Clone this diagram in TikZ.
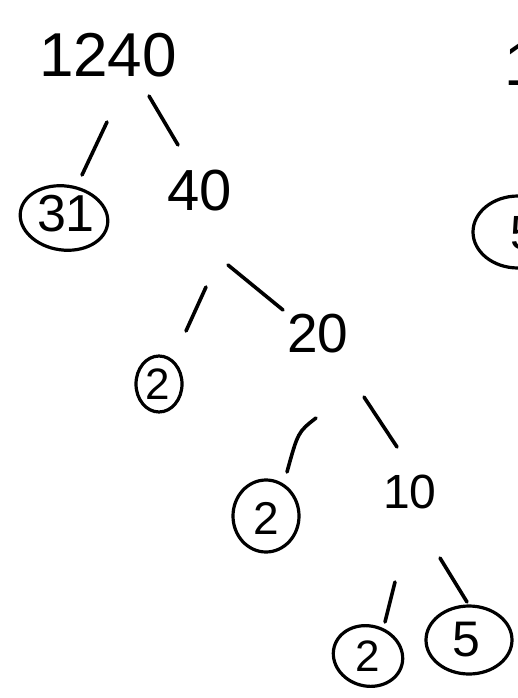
\documentclass[tikz,border=0pt]{standalone}
\usepackage{fontspec}
\setmainfont{Liberation Sans}
\usetikzlibrary{shapes.geometric}
\begin{document}
\begin{tikzpicture}[x=1pt,y=-1pt,
  num/.style={inner sep=0pt, font=\fontsize{#1}{#1}\selectfont},
  ring/.style={draw, ellipse, line width=3.2pt, inner sep=0pt},
  edge/.style={line width=3.6pt, line cap=round}]
\useasboundingbox (0,0) rectangle (517,698);
% numbers
\node[num=62] (root) at (108,55) {1240};
\node[num=52] (n31) at (66,214) {31};
\node[ring, minimum width=88, minimum height=64, rotate=-8] (c31) at (64,218) {};
\node[num=58] (n40) at (200,191) {40};
\node[num=55] (n20) at (318,334) {20};
\node[num=44] (n2a) at (158,384) {2};
\node[ring, minimum width=46, minimum height=56] (c2a) at (159,384) {};
\node[num=46] (n2b) at (266,518) {2};
\node[ring, minimum width=66, minimum height=72] (c2b) at (266,516) {};
\node[num=48] (n10) at (410,492) {10};
\node[num=44] (n2c) at (368,656) {2};
\node[ring, minimum width=70, minimum height=60, rotate=-15] (c2c) at (368,656) {};
\node[num=50] (n5) at (466,640) {5};
\node[ring, minimum width=86, minimum height=68] (c5) at (469,640) {};
% partial items at the right edge (cut off in the reference)
\node[num=62] (r1) at (522,64) {1};
\node[num=48] (r5) at (524,233) {5};
\node[ring, minimum width=90, minimum height=72] (cr5) at (518,232) {};
% connector ends
\coordinate (a1) at (107,122); \coordinate (b1) at (82,175);
\coordinate (a2) at (149,96);  \coordinate (b2) at (178,145);
\coordinate (a3) at (206,287); \coordinate (b3) at (186,331);
\coordinate (a4) at (228,265); \coordinate (b4) at (283,310);
\coordinate (a5) at (316,418); \coordinate (b5) at (287,472);
\coordinate (a6) at (364,397); \coordinate (b6) at (397,447);
\coordinate (a7) at (395,582); \coordinate (b7) at (385,622);
\coordinate (a8) at (440,558); \coordinate (b8) at (467,602);
\draw[edge] (a1) -- (b1);
\draw[edge] (a2) -- (b2);
\draw[edge] (a3) -- (b3);
\draw[edge] (a4) -- (b4);
\draw[edge] (a5) .. controls (298,432) .. (b5);
\draw[edge] (a6) -- (b6);
\draw[edge] (a7) -- (b7);
\draw[edge] (a8) -- (b8);
\end{tikzpicture}
\end{document}
